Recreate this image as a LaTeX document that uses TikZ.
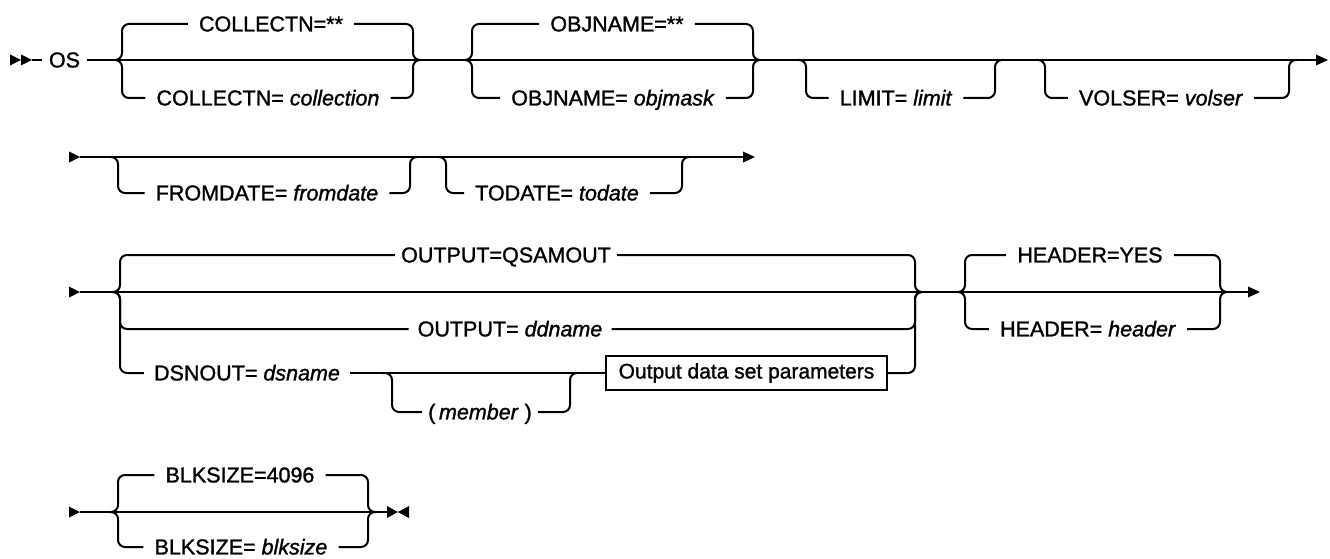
\documentclass[tikz,border=0pt]{standalone}
\usepackage{fontspec}
\setmainfont{Liberation Sans}[FakeBold=1.3]
\begin{document}
\begin{tikzpicture}[x=1pt,y=-1pt,
  rail/.style={line width=2pt, rounded corners=7pt, line join=round},
  lbl/.style={font=\fontsize{21.5}{25}\selectfont, text height=14.8pt, text depth=0pt, inner ysep=0pt, inner xsep=11pt},
  boxlbl/.style={draw, line width=1.6pt, font=\fontsize{21}{25}\selectfont, minimum width=281pt, minimum height=34pt, inner sep=0pt},
  tip/.style={fill=black}]
\useasboundingbox (0,0) rectangle (1330,559);

% ---------------- Row 1 ----------------
\fill[tip] (10,54.5) -- (10,65.5) -- (21,60) -- cycle;
\fill[tip] (21,54.5) -- (21,65.5) -- (32,60) -- cycle;
\node[lbl, inner xsep=7pt] (os) at (64.5,60) {OS};
\draw[rail] (32,60) -- (os.west);
\draw[rail] (os.east) -- (1316,60);
\fill[tip] (1316,54.5) -- (1316,65.5) -- (1328,60) -- cycle;

\node[lbl] (c1) at (271,24) {COLLECTN=**};
\node[lbl] (c2) at (268,98) {COLLECTN= \textit{collection}};
\draw[rail] (115,60) -- (122,60) -- (122,24) -- (c1.west);
\draw[rail] (c1.east) -- (413,24) -- (413,60) -- (420,60);
\draw[rail] (115,60) -- (122,60) -- (122,98) -- (c2.west);
\draw[rail] (c2.east) -- (413,98) -- (413,60) -- (420,60);

\node[lbl] (o1) at (617,24) {OBJNAME=**};
\node[lbl] (o2) at (613,98) {OBJNAME= \textit{objmask}};
\draw[rail] (465,60) -- (472,60) -- (472,24) -- (o1.west);
\draw[rail] (o1.east) -- (753,24) -- (753,60) -- (760,60);
\draw[rail] (465,60) -- (472,60) -- (472,98) -- (o2.west);
\draw[rail] (o2.east) -- (753,98) -- (753,60) -- (760,60);

\node[lbl] (l1) at (896,98) {LIMIT= \textit{limit}};
\draw[rail] (798,60) -- (806,60) -- (806,98) -- (l1.west);
\draw[rail] (l1.east) -- (995,98) -- (995,60) -- (1003,60);

\node[lbl] (v1) at (1161,98) {VOLSER= \textit{volser}};
\draw[rail] (1037,60) -- (1045,60) -- (1045,98) -- (v1.west);
\draw[rail] (v1.east) -- (1289,98) -- (1289,60) -- (1297,60);

% ---------------- Row 2 ----------------
\fill[tip] (69,151.5) -- (69,162.5) -- (80,157) -- cycle;
\draw[rail] (80,157) -- (743,157);
\fill[tip] (743,151.5) -- (743,162.5) -- (755,157) -- cycle;

\node[lbl] (f1) at (267,193) {FROMDATE= \textit{fromdate}};
\draw[rail] (110,157) -- (118,157) -- (118,193) -- (f1.west);
\draw[rail] (f1.east) -- (410,193) -- (410,157) -- (418,157);

\node[lbl] (t1) at (557,193) {TODATE= \textit{todate}};
\draw[rail] (438,157) -- (446,157) -- (446,193) -- (t1.west);
\draw[rail] (t1.east) -- (682,193) -- (682,157) -- (690,157);

% ---------------- Row 3 ----------------
\fill[tip] (69,286.5) -- (69,297.5) -- (80,292) -- cycle;
\draw[rail] (80,292) -- (1248,292);
\fill[tip] (1248,286.5) -- (1248,297.5) -- (1260,292) -- cycle;

\node[lbl, inner xsep=6pt] (q1) at (506,255) {OUTPUT=QSAMOUT};
\node[lbl, inner xsep=9pt] (q2) at (510,329) {OUTPUT= \textit{ddname}};
\node[lbl, inner xsep=10pt] (d1) at (247,373) {DSNOUT= \textit{dsname}};
\node[boxlbl] (box) at (746.5,373) {Output data set parameters};
\node[lbl, inner xsep=6pt] (m1) at (480,412) {(\,\textit{member} )};

\draw[rail] (113,292) -- (120,292) -- (120,255) -- (q1.west);
\draw[rail] (q1.east) -- (915,255) -- (915,292) -- (922,292);
\draw[rail] (113,292) -- (120,292) -- (120,329) -- (q2.west);
\draw[rail] (q2.east) -- (915,329) -- (915,292) -- (922,292);
\draw[rail] (113,292) -- (120,292) -- (120,373) -- (d1.west);
\draw[rail] (d1.east) -- (box.west);
\draw[rail] (box.east) -- (915,373) -- (915,292) -- (922,292);
\draw[rail] (382,373) -- (392,373) -- (392,412) -- (m1.west);
\draw[rail] (m1.east) -- (570,412) -- (570,373) -- (577,373);

\node[lbl] (h1) at (1090,255) {HEADER=YES};
\node[lbl] (h2) at (1088,329) {HEADER= \textit{header}};
\draw[rail] (958,292) -- (965,292) -- (965,255) -- (h1.west);
\draw[rail] (h1.east) -- (1220,255) -- (1220,292) -- (1227,292);
\draw[rail] (958,292) -- (965,292) -- (965,329) -- (h2.west);
\draw[rail] (h2.east) -- (1220,329) -- (1220,292) -- (1227,292);

% ---------------- Row 4 ----------------
\fill[tip] (69,506.5) -- (69,517.5) -- (80,512) -- cycle;
\draw[rail] (80,512) -- (387,512);
\node[lbl] (b1) at (240,475) {BLKSIZE=4096};
\node[lbl] (b2) at (241,547) {BLKSIZE= \textit{blksize}};
\draw[rail] (110,512) -- (118,512) -- (118,475) -- (b1.west);
\draw[rail] (b1.east) -- (368,475) -- (368,512) -- (376,512);
\draw[rail] (110,512) -- (118,512) -- (118,547) -- (b2.west);
\draw[rail] (b2.east) -- (368,547) -- (368,512) -- (376,512);
\fill[tip] (387,506) -- (387,518) -- (398,512) -- cycle;
\fill[tip] (409,506) -- (409,518) -- (398,512) -- cycle;
\end{tikzpicture}
\end{document}
